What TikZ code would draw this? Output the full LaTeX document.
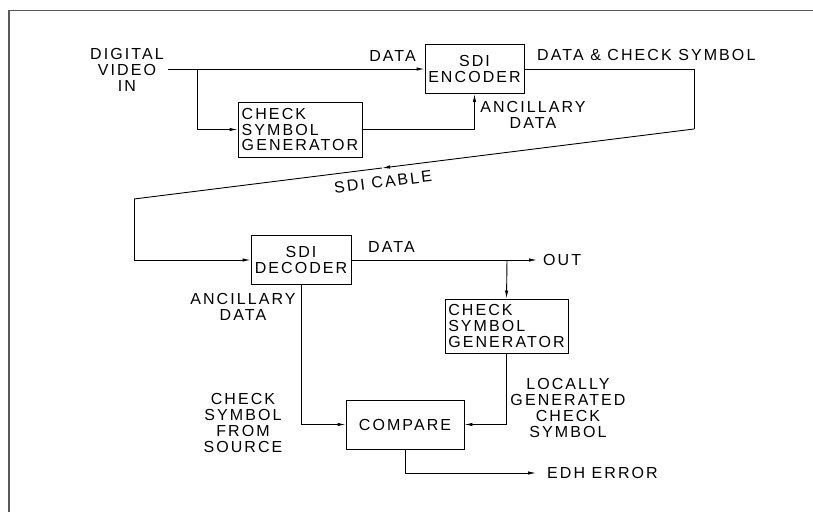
\documentclass[tikz,border=0pt]{standalone}
\usepackage{fontspec}
\setmainfont{Liberation Sans}[LetterSpace=13]
\usetikzlibrary{arrows.meta}
\begin{document}
\begin{tikzpicture}[x=1pt,y=-1pt,
  font=\fontsize{16}{15.9}\selectfont,
  blk/.style={draw, line width=0.9pt, inner sep=0pt, align=center},
  gen/.style={blk, align=left, minimum width=124pt, minimum height=55pt},
  wire/.style={line width=0.9pt},
  arr/.style={wire, -{Latex[length=8pt,width=3.4pt]}},
  lbl/.style={inner sep=0pt, align=center}]
\useasboundingbox (0,0) rectangle (813,512);

% page frame
\draw[gray!70!black, line width=1.4pt] (9,512) -- (9,10.5) -- (813,10.5);

% blocks
\node[blk, minimum width=99pt, minimum height=49pt] (enc) at (474.5,69) {SDI\\ENCODER};
\node[gen] (gen1) at (300,129.5) {CHECK\\SYMBOL\\GENERATOR};
\node[blk, minimum width=100pt, minimum height=49pt] (dec) at (301,260) {SDI\\DECODER};
\node[gen, minimum width=123pt, minimum height=54pt] (gen2) at (506.5,326) {CHECK\\SYMBOL\\GENERATOR};
\node[blk, minimum width=118pt, minimum height=49pt] (cmp) at (405,424.5) {COMPARE};

% transmit side
\coordinate (vin) at (168,69);
\coordinate (br1) at (197,69);
\draw[arr] (vin) -- (enc.west);
\draw[arr] (br1) |- (gen1.west);
\draw[arr] (gen1.east) -| (enc.south);

% cable
\coordinate (c1) at (694,69);
\coordinate (c2) at (694,129);
\coordinate (cm) at (382,168);
\coordinate (c3) at (134,199);
\draw[wire] (enc.east) -- (c1) -- (c2);
\draw[arr] (c2) -- (cm);
\draw[wire] (cm) -- (c3);
\draw[arr] (c3) |- (dec.west);

% receive side
\coordinate (out) at (537,260);
\coordinate (br2) at (507,260);
\coordinate (edh) at (536,473);
\draw[arr] (dec.east) -- (out);
\draw[arr] (br2) -- (gen2.north);
\draw[arr] (gen2.south) |- (cmp.east);
\draw[arr] (dec.south) |- (cmp.west);
\draw[arr] (cmp.south) |- (edh);

% labels
\node[lbl] (tvin) at (127,70) {DIGITAL\\VIDEO\\IN};
\node[lbl, anchor=east] (tdata1) at (416,56) {DATA};
\node[lbl, anchor=west] (tdcs) at (537,55) {DATA \& CHECK SYMBOL};
\node[lbl] (tanc1) at (533,115) {ANCILLARY\\DATA};
\node[lbl, rotate=7.1] (tcable) at (383,182) {SDI CABLE};
\node[lbl, anchor=west] (tdata2) at (368,247) {DATA};
\node[lbl, anchor=west] (tout) at (543,260) {OUT};
\node[lbl] (tanc2) at (243,307) {ANCILLARY\\DATA};
\node[lbl] (tsrc) at (243,423) {CHECK\\SYMBOL\\FROM\\SOURCE};
\node[lbl] (tloc) at (568,408) {LOCALLY\\GENERATED\\CHECK\\SYMBOL};
\node[lbl, anchor=west] (tedh) at (547,473) {EDH ERROR};
\end{tikzpicture}
\end{document}
